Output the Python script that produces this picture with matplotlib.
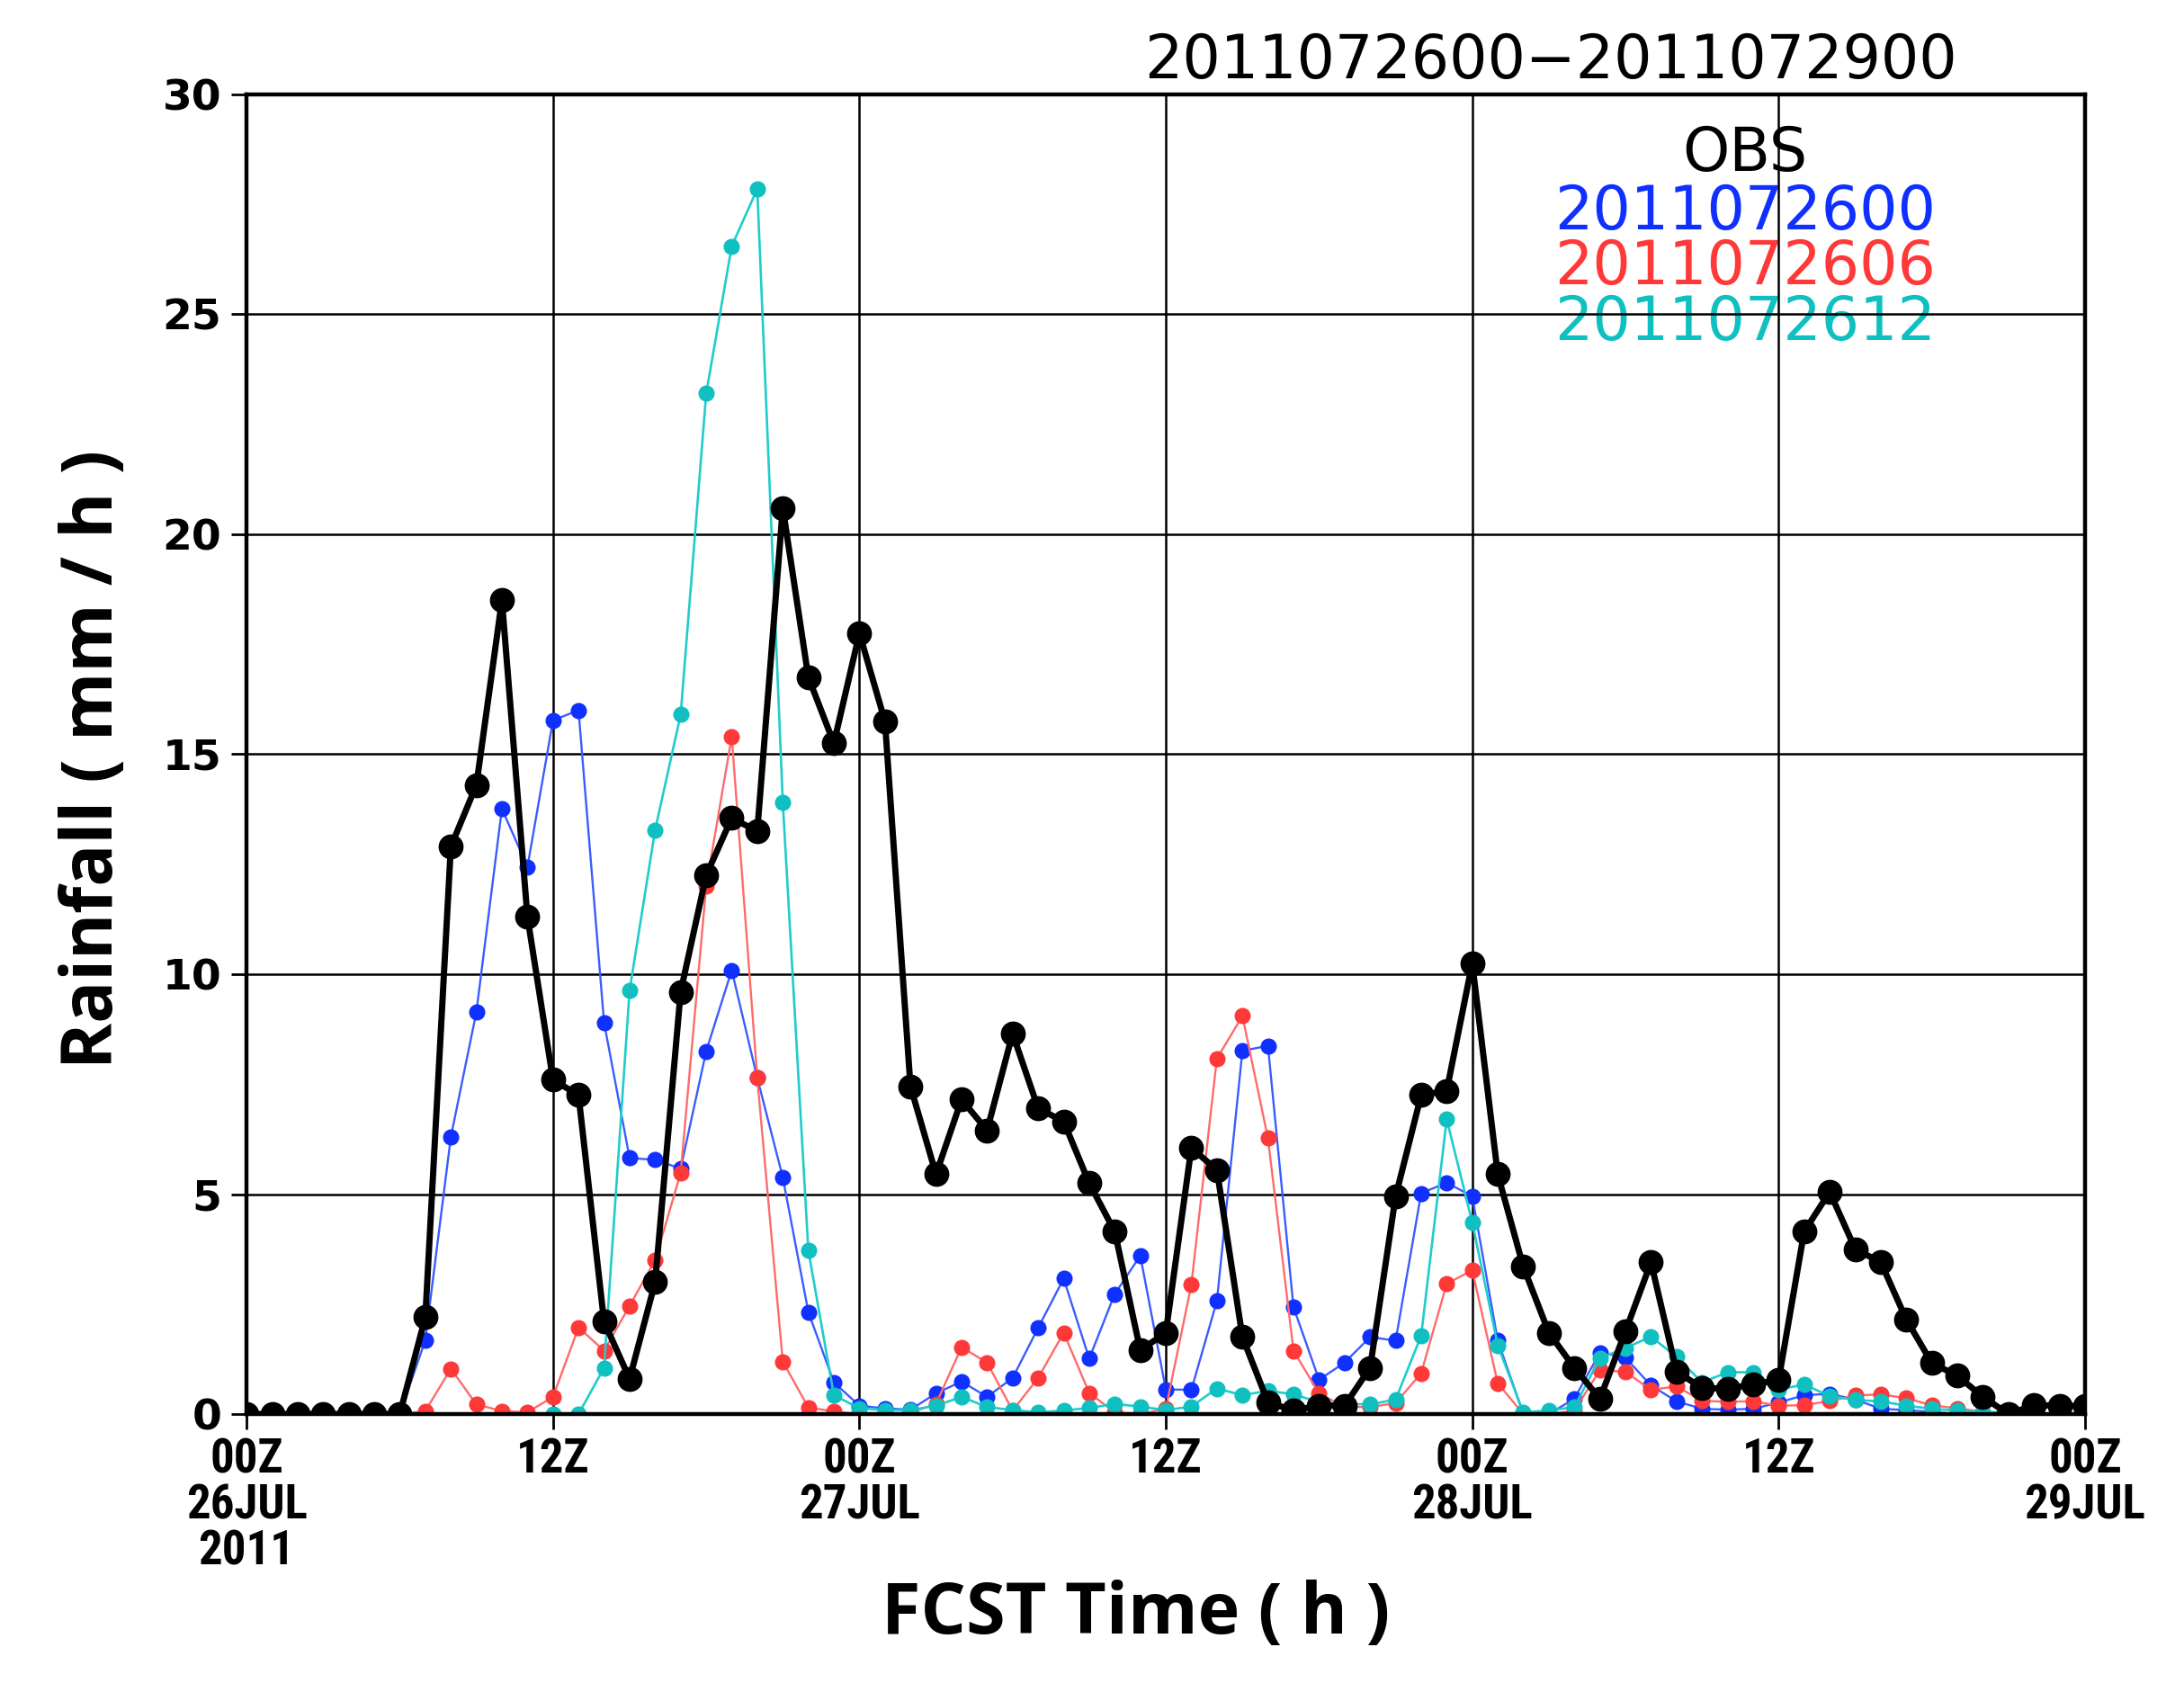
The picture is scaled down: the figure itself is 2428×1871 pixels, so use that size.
import numpy as np
import matplotlib
matplotlib.use("Agg")
import matplotlib.pyplot as plt
from matplotlib import font_manager

# hourly rainfall, 00Z 26JUL 2011 .. 00Z 29JUL 2011
hours = np.arange(0, 73)

obs = [0, 0, 0, 0, 0, 0, 0, 2.2, 12.9, 14.3, 18.5, 11.3, 7.6, 7.25, 2.1, 0.8,
       3.0, 9.6, 12.25, 13.55, 13.25, 20.6, 16.75, 15.25, 17.75, 15.75, 7.45,
       5.45, 7.15, 6.45, 8.65, 6.95, 6.65, 5.25, 4.15, 1.45, 1.85, 6.05, 5.55,
       1.75, 0.27, 0.08, 0.19, 0.19, 1.05, 4.95, 7.25, 7.35, 10.25, 5.45, 3.35,
       1.85, 1.05, 0.35, 1.88, 3.45, 0.97, 0.59, 0.58, 0.67, 0.78, 4.15, 5.05,
       3.75, 3.45, 2.15, 1.16, 0.87, 0.39, 0.0, 0.2, 0.19, 0.18]

fc00 = [0, 0, 0, 0, 0, 0, 0, 1.68, 6.3, 9.14, 13.76, 12.44, 15.77, 16.0, 8.9,
        5.82, 5.78, 5.58, 8.25, 10.09, 7.64, 5.38, 2.32, 0.72, 0.19, 0.13, 0.1,
        0.47, 0.74, 0.39, 0.82, 1.96, 3.08, 1.26, 2.73, 3.6, 0.56, 0.55, 2.57,
        8.26, 8.37, 2.43, 0.78, 1.17, 1.75, 1.67, 5.02, 5.26, 4.95, 1.67, 0.0,
        0.0, 0.35, 1.4, 1.28, 0.65, 0.29, 0.12, 0.1, 0.12, 0.26, 0.43, 0.46,
        0.33, 0.12, 0.09, 0.05, 0, 0, 0, 0, 0, 0]

# starts at +6h
fc06 = [0, 0.07, 1.03, 0.22, 0.07, 0.04, 0.39, 1.97, 1.44, 2.46, 3.5, 5.48,
        12.0, 15.4, 7.64, 1.19, 0.15, 0.06, 0, 0, 0.03, 0.23, 1.52, 1.17, 0.08,
        0.82, 1.85, 0.48, 0.04, 0, 0.12, 2.94, 8.08, 9.05, 6.27, 1.44, 0.47,
        0.16, 0.16, 0.25, 0.93, 2.96, 3.27, 0.7, 0, 0, 0.08, 1.0, 0.96, 0.55,
        0.63, 0.3, 0.28, 0.29, 0.19, 0.2, 0.3, 0.42, 0.45, 0.36, 0.2, 0.13,
        0.05, 0, 0, 0, 0]

# starts at +12h
fc12 = [0, 0, 1.05, 9.63, 13.28, 15.9, 23.2, 26.55, 27.85, 13.9, 3.72, 0.43,
        0.13, 0.09, 0.09, 0.19, 0.39, 0.16, 0.09, 0.04, 0.08, 0.14, 0.23, 0.17,
        0.09, 0.17, 0.58, 0.43, 0.53, 0.45, 0.27, 0.23, 0.22, 0.33, 1.78, 6.7,
        4.36, 1.56, 0.04, 0.08, 0.16, 1.27, 1.5, 1.76, 1.3, 0.72, 0.95, 0.95,
        0.56, 0.67, 0.41, 0.32, 0.29, 0.19, 0.12, 0.08, 0.04, 0.05, 0, 0, 0]

xtick_pos = [0, 12, 24, 36, 48, 60, 72]
xtick_lab = ["00Z\n26JUL\n2011", "12Z", "00Z\n27JUL", "12Z", "00Z\n28JUL",
             "12Z", "00Z\n29JUL"]
ytick_pos = [0, 5, 10, 15, 20, 25, 30]

title = "2011072600\u22122011072900"
legend_names = ["OBS", "2011072600", "2011072606", "2011072612"]


def pick_font(names):
    for n in names:
        try:
            font_manager.findfont(n, fallback_to_default=False)
            return n
        except Exception:
            pass
    return "DejaVu Sans"


narrow = pick_font(["Liberation Sans Narrow", "DejaVu Sans Condensed",
                    "Roboto Condensed", "DejaVu Sans"])
label_font = pick_font(["Open Sans", "Noto Sans", "DejaVu Sans"])

fig = plt.figure(figsize=(24.28, 18.71), dpi=100)
ax = fig.add_axes([0.1129, 0.1598, 0.8418, 0.7841])

ax.plot(hours, fc00, color="#3a5cff", lw=1.7, zorder=3)
ax.plot(hours, fc00, ls="none", marker="o", ms=12, color="#1030ff", zorder=3)
ax.plot(hours[6:], fc06, color="#ff6a6a", lw=1.7, zorder=4)
ax.plot(hours[6:], fc06, ls="none", marker="o", ms=12, color="#ff3838", zorder=4)
ax.plot(hours[12:], fc12, color="#20cccc", lw=1.9, zorder=5)
ax.plot(hours[12:], fc12, ls="none", marker="o", ms=12, color="#10c0c0", zorder=5)
ax.plot(hours, obs, color="black", lw=5, marker="o", ms=19, zorder=6)

ax.set_xlim(0, 72)
ax.set_ylim(0, 30)
ax.set_xticks(xtick_pos)
ax.set_xticklabels(xtick_lab, fontfamily=narrow, fontweight="bold",
                   fontsize=38, linespacing=1.0, fontstretch="condensed")
ax.set_yticks(ytick_pos)
ax.set_yticklabels([str(v) for v in ytick_pos], fontfamily="DejaVu Sans",
                   fontweight="bold", fontsize=34)
ax.tick_params(axis="x", direction="out", length=12, width=2, pad=6)
ax.tick_params(axis="y", direction="out", length=12, width=2, pad=8)
ax.grid(True, color="black", lw=1.8)
ax.set_axisbelow(False)
for g in ax.get_xgridlines() + ax.get_ygridlines():
    g.set_zorder(2)
for s in ax.spines.values():
    s.set_linewidth(3.2)
    s.set_zorder(7)

ax.text(0.7094, 1.025, title, transform=ax.transAxes, ha="center",
        va="center", fontsize=48, fontfamily="DejaVu Sans", clip_on=False,
        zorder=1)
leg_colors = ["black", "#1030ff", "#ff3838", "#10c0c0"]
leg_y = [0.955, 0.911, 0.869, 0.827]
for name, c, yy in zip(legend_names, leg_colors, leg_y):
    ax.text(0.815, yy, name, transform=ax.transAxes, ha="center", va="center",
            fontsize=48, color=c, fontfamily="DejaVu Sans", zorder=1)

fig.text(0.0432, 0.549, "Rainfall ( mm / h )", rotation=90, ha="center",
         va="center", fontsize=56, fontweight="bold", fontfamily=label_font)
fig.text(0.52, 0.0405, "FCST Time ( h )", ha="center", va="center",
         fontsize=57, fontweight="bold", fontfamily=label_font)

fig.savefig("out.png", dpi=100, facecolor="white")
